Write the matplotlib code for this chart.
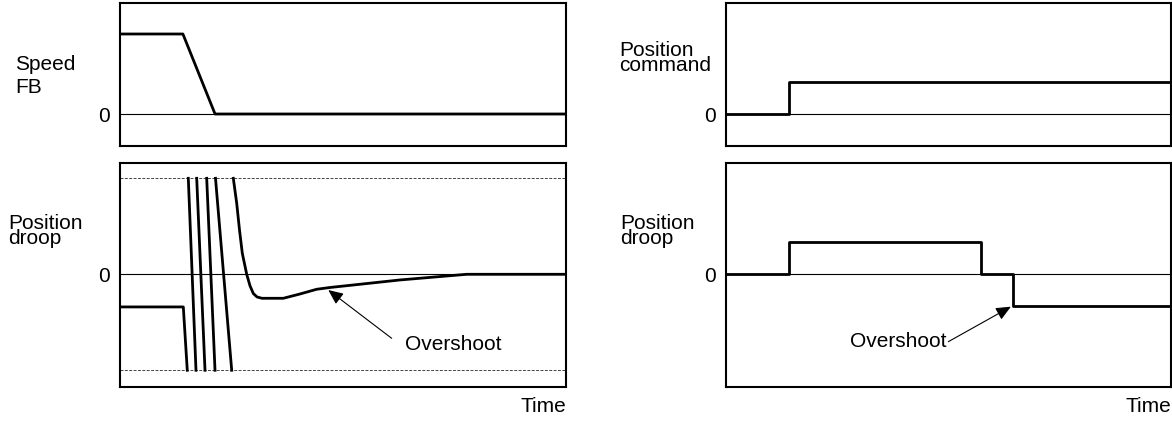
import numpy as np
import matplotlib
matplotlib.use("Agg")
import matplotlib.pyplot as plt

plt.rcParams["font.family"] = ["Liberation Sans", "DejaVu Sans"]

nan = np.nan

# left: speed feedback, time in % of panel width
speed_t = [0, 14.2, 21.4, 100]
speed_v = [1.0, 1.0, 0.0, 0.0]

# left: position droop (wraps at +/-1, nan marks a wrap)
droop_t = [0, 14.29, 15.18, nan, 15.41, 17.13, nan, 17.29, 19.15, nan,
           19.53, 21.39, nan, 21.5, 25.13, nan, 25.49, 26.25, 26.88, 27.50,
           28.49, 29.23, 29.97, 30.80, 31.91, 36.69, 40.43, 44.17, 47.14,
           62.82, 77.76, 100]
droop_v = [-0.34, -0.34, -1, nan, 1, -1, nan, 1, -1, nan,
           1, -1, nan, 1, -1, nan, 1, 0.74, 0.46, 0.22,
           0.0, -0.12, -0.20, -0.236, -0.25, -0.25, -0.205, -0.156, -0.1375,
           -0.059, 0.0, 0.0]
droop_limit = 1.0

# right: position command and droop
cmd_t = [0, 14.27, 14.27, 100]
cmd_v = [0, 0, 0.4, 0.4]
droop2_t = [0, 14.27, 14.27, 57.3, 57.3, 64.5, 64.5, 100]
droop2_v = [0, 0, 0.333, 0.333, 0, 0, -0.327, -0.327]

W, H = 1172, 421
fig = plt.figure(figsize=(W / 100, H / 100), dpi=100)


def make_ax(x0, x1, y0, y1, ylim):
    ax = fig.add_axes([x0 / W, (H - y1) / H, (x1 - x0) / W, (y1 - y0) / H])
    ax.set_xlim(0, 100)
    ax.set_ylim(*ylim)
    ax.set_xticks([])
    ax.set_yticks([0])
    ax.set_yticklabels(["0"])
    ax.tick_params(axis="y", length=0, pad=7, labelsize=15)
    for s in ax.spines.values():
        s.set_linewidth(1.5)
    ax.axhline(0, color="black", lw=0.8, zorder=1)
    return ax


top_lim = (-0.4, 1.3875)
bot_lim = (-1.171, 1.1625)

ax1 = make_ax(119.5, 566, 3, 146, top_lim)
ax2 = make_ax(119.5, 566, 162.7, 386.7, bot_lim)
ax3 = make_ax(725.7, 1171.3, 3, 146, top_lim)
ax4 = make_ax(725.7, 1171.3, 162.7, 386.7, bot_lim)

lw = 2.0
ax1.plot(speed_t, speed_v, color="black", lw=lw, zorder=3)

for lim in (droop_limit, -droop_limit):
    ax2.axhline(lim, color="#444444", lw=0.7, ls=(0, (3, 1.5)), zorder=1)
ax2.plot(droop_t, droop_v, color="black", lw=lw, zorder=3)

ax3.plot(cmd_t, cmd_v, color="black", lw=lw, zorder=3)
ax4.plot(droop2_t, droop2_v, color="black", lw=lw, zorder=3)

arrow = dict(arrowstyle="-|>,head_length=0.45,head_width=0.2",
             mutation_scale=20, lw=0.8, color="black",
             shrinkA=0, shrinkB=0)
ax2.annotate("", xy=(46.76, -0.164), xytext=(60.96, -0.667),
             arrowprops=arrow)
ax2.text(63.94, -0.789, "Overshoot", fontsize=15, ha="left", va="baseline")

ax4.annotate("", xy=(64.0, -0.3375), xytext=(49.96, -0.702),
             arrowprops=arrow)
ax4.text(49.66, -0.76, "Overshoot", fontsize=15, ha="right", va="baseline")


def label(x, y, s, **kw):
    # y is the baseline of the last line, in pixels from the top
    fig.text(x / W, (H - y) / H, s, fontsize=15, va="baseline", **kw)


label(15, 93.3, "Speed\nFB", linespacing=1.26)
label(8.3, 244, "Position\ndroop", linespacing=0.74)
label(619, 70.7, "Position\ncommand", linespacing=0.74)
label(620, 244, "Position\ndroop", linespacing=0.74)
label(566, 411.7, "Time", ha="right")
label(1171, 411.7, "Time", ha="right")

fig.savefig("out.png", dpi=100)
